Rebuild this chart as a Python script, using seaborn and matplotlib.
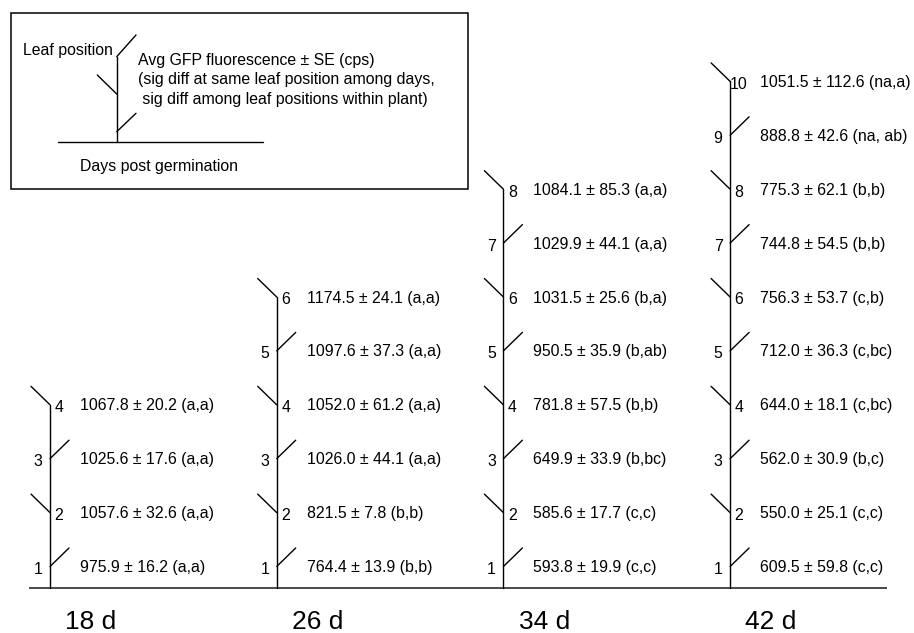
import matplotlib
matplotlib.use("Agg")
import matplotlib.pyplot as plt
import seaborn as sns
from matplotlib.patches import Rectangle

# ---------------- data ----------------
days = ["18 d", "26 d", "34 d", "42 d"]

means_18 = [975.9, 1057.6, 1025.6, 1067.8]
se_18 = [16.2, 32.6, 17.6, 20.2]
sig_18 = ["(a,a)", "(a,a)", "(a,a)", "(a,a)"]

means_26 = [764.4, 821.5, 1026.0, 1052.0, 1097.6, 1174.5]
se_26 = [13.9, 7.8, 44.1, 61.2, 37.3, 24.1]
sig_26 = ["(b,b)", "(b,b)", "(a,a)", "(a,a)", "(a,a)", "(a,a)"]

means_34 = [593.8, 585.6, 649.9, 781.8, 950.5, 1031.5, 1029.9, 1084.1]
se_34 = [19.9, 17.7, 33.9, 57.5, 35.9, 25.6, 44.1, 85.3]
sig_34 = ["(c,c)", "(c,c)", "(b,bc)", "(b,b)", "(b,ab)", "(b,a)", "(a,a)", "(a,a)"]

means_42 = [609.5, 550.0, 562.0, 644.0, 712.0, 756.3, 744.8, 775.3, 888.8, 1051.5]
se_42 = [59.8, 25.1, 30.9, 18.1, 36.3, 53.7, 54.5, 62.1, 42.6, 112.6]
sig_42 = ["(c,c)", "(c,c)", "(b,c)", "(c,bc)", "(c,bc)", "(c,b)", "(b,b)", "(b,b)", "(na, ab)", "(na,a)"]

plants = [
    (means_18, se_18, sig_18),
    (means_26, se_26, sig_26),
    (means_34, se_34, sig_34),
    (means_42, se_42, sig_42),
]

legend_lines = [
    "Avg GFP fluorescence \u00b1 SE (cps)",
    "(sig diff at same leaf position among days,",
    " sig diff among leaf positions within plant)",
]

# ---------------- style ----------------
sns.set_theme(style="white")
plt.rcParams["font.family"] = ["Liberation Sans", "DejaVu Sans"]
plt.rcParams["text.color"] = "black"

W, H = 914, 633
fig = plt.figure(figsize=(W / 100, H / 100), dpi=100)
ax = fig.add_axes([0, 0, 1, 1])
ax.set_xlim(0, W)
ax.set_ylim(H, 0)
ax.axis("off")

# layout (pixel units)
ground_y = 587.5
first_leaf = 21.0
leaf_gap = 53.9
stem0 = 50.0
stem_gap = 226.7
leaf_dx, leaf_dy = 19.0, 18.5
fs_val = 11.4
fs_day = 19
lc = "black"
lw = 1.0

# ground line
ax.plot([29, 887], [ground_y, ground_y], color="#4a4a4a", lw=1.4, solid_capstyle="butt")

for p, ((means, ses, sigs), day) in enumerate(zip(plants, days)):
    sx = stem0 + p * stem_gap
    n = len(means)
    ys = [ground_y - first_leaf - i * leaf_gap for i in range(n)]
    # stem
    ax.plot([sx, sx], [ground_y, ys[-1]], color=lc, lw=lw)
    for i, (m, s, g) in enumerate(zip(means, ses, sigs)):
        y = ys[i]
        leaf_no = i + 1
        if leaf_no % 2 == 1:
            ax.plot([sx, sx + leaf_dx], [y, y - leaf_dy], color=lc, lw=lw)
            ax.text(sx - 12, y + 3, str(leaf_no), ha="center", va="center", fontsize=fs_val)
        else:
            ax.plot([sx - leaf_dx, sx], [y - leaf_dy, y], color=lc, lw=lw)
            ax.text(sx + 9, y + 3, str(leaf_no), ha="center", va="center", fontsize=fs_val)
        ax.text(sx + 30, y + 1, f"{m:.1f} \u00b1 {s:.1f} {g}", ha="left", va="center",
                fontsize=fs_val)
    ax.text(sx + 41, 622, day, ha="center", va="center", fontsize=fs_day)

# ---------------- legend box ----------------
ax.add_patch(Rectangle((10.7, 13.3), 457.3, 175.7, fill=False, edgecolor="black", lw=1.1))
ax.plot([58.3, 263.3], [142.3, 142.3], color=lc, lw=lw)
ax.plot([116.7, 116.7], [142.3, 56.7], color=lc, lw=lw)
ax.plot([116.7, 136], [56.7, 35], color=lc, lw=lw)
ax.plot([97.3, 116.7], [75, 94], color=lc, lw=lw)
ax.plot([116.7, 136], [131.7, 113.3], color=lc, lw=lw)
ax.text(22.7, 50, "Leaf position", ha="left", va="center", fontsize=fs_val)
for k, line in enumerate(legend_lines):
    ax.text(138.3, 60 + k * 19.7, line, ha="left", va="center", fontsize=fs_val)
ax.text(80, 166, "Days post germination", ha="left", va="center", fontsize=fs_val)

fig.savefig("out.png", dpi=100)
